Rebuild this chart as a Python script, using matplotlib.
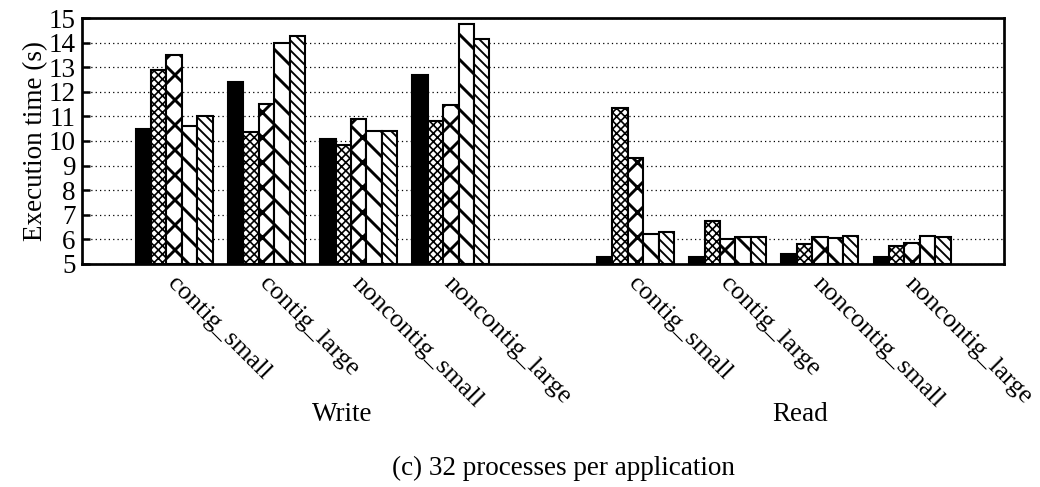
import matplotlib
matplotlib.use("Agg")
import matplotlib.pyplot as plt
import matplotlib.transforms as mtransforms
import numpy as np

plt.rcParams['font.family'] = ['Liberation Serif', 'DejaVu Serif']
plt.rcParams['hatch.color'] = 'black'

# categories
patterns_names = ['contig_small', 'contig_large', 'noncontig_small', 'noncontig_large']
ops = ['Write', 'Read']

# five series per category
s1 = [10.5, 12.4, 10.1, 12.7, 5.3, 5.3, 5.4, 5.3]
s2 = [12.9, 10.35, 9.85, 10.8, 11.35, 6.75, 5.8, 5.75]
s3 = [13.5, 11.5, 10.9, 11.45, 9.3, 6.0, 6.1, 5.85]
s4 = [10.6, 14.0, 10.4, 14.75, 6.2, 6.1, 6.05, 6.15]
s5 = [11.0, 14.25, 10.4, 14.15, 6.3, 6.1, 6.15, 6.1]
series = [s1, s2, s3, s4, s5]

hatches = ['', 'xxxxxx', 'xx', '\\\\', '\\' * 5]
faces = ['black', 'white', 'white', 'white', 'white']
hatch_lw = [1.0, 0.8, 1.4, 1.4, 0.9]

pos = np.array([1, 2, 3, 4, 6, 7, 8, 9], dtype=float)
bw = 0.167
base = 5
fs = 13

fig = plt.figure(figsize=(1040 / 150, 487 / 150), dpi=150)
ax = fig.add_axes([0.0788, 0.458, 0.887, 0.505])

for k, vals in enumerate(series):
    x = pos - 2 * bw + k * bw
    with plt.rc_context({'hatch.linewidth': hatch_lw[k]}):
        ax.bar(x, np.array(vals) - base, bottom=base, width=bw,
               color=faces[k], edgecolor='black', linewidth=1.0,
               hatch=hatches[k], zorder=3)

ax.set_xlim(0, 10)
ax.set_ylim(5, 15)
ax.set_yticks(range(5, 16))
ax.yaxis.grid(True, linestyle=(0, (1, 2.5)), color='black', linewidth=0.6, zorder=0)
ax.set_axisbelow(True)
for sp in ax.spines.values():
    sp.set_linewidth(1.3)

ax.tick_params(axis='y', direction='in', length=4, width=1.2, labelsize=fs, pad=3, right=False)
ax.set_xticks(pos)
ax.set_xticklabels(patterns_names * 2, rotation=-45, ha='left', va='top',
                   rotation_mode='anchor', fontsize=12.6)
ax.tick_params(axis='x', length=0, pad=4)
# nudge the slanted labels a little to the right
shift = mtransforms.ScaledTranslation(4 / 150, 0, fig.dpi_scale_trans)
for lab in ax.get_xticklabels():
    lab.set_transform(lab.get_transform() + shift)
ax.set_ylabel('Execution time (s)', fontsize=fs, labelpad=0)

fig.text(0.329, 0.148, ops[0], ha='center', va='center', fontsize=fs)
fig.text(0.769, 0.148, ops[1], ha='center', va='center', fontsize=fs)
fig.text(0.542, 0.039, '(c) 32 processes per application', ha='center', va='center', fontsize=fs)

fig.savefig('out.png', dpi=150)
